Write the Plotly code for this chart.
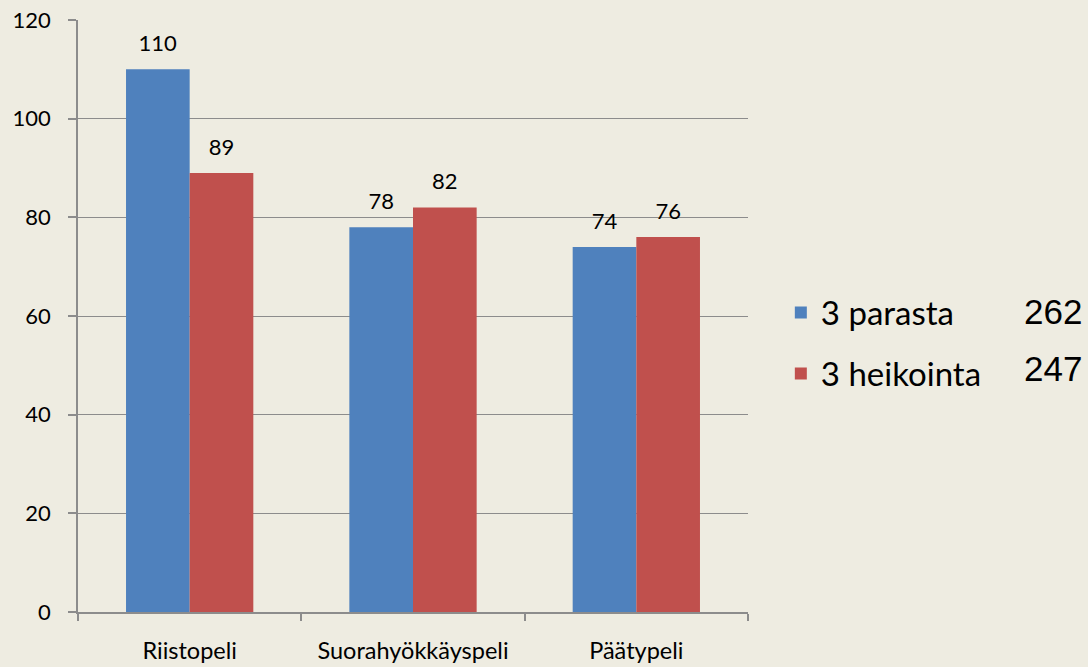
import plotly.graph_objects as go

categories = ["Riistopeli", "Suorahyökkäyspeli", "Päätypeli"]
series_names = ["3 parasta", "3 heikointa"]
parasta = [110, 78, 74]
heikointa = [89, 82, 76]
totals = ["262", "247"]
y_ticks = [0, 20, 40, 60, 80, 100, 120]

BG = "#EEECE1"
BLUE = "#4F81BD"
RED = "#C0504D"
GRID = "#8C8C8C"
FONT = "Lato, Open Sans, sans-serif"

fig = go.Figure()
for name, vals, col in [(series_names[0], parasta, BLUE), (series_names[1], heikointa, RED)]:
    fig.add_trace(go.Bar(
        x=categories, y=vals, name=name, marker=dict(color=col, line=dict(width=0)),
        text=vals, texttemplate="<span style='font-size:22px'>%{y}</span><br> ",
        textposition="outside", textfont=dict(size=10, color="black", family=FONT),
        cliponaxis=False, legendgroup=name,
    ))

fig.update_layout(
    width=1088, height=667,
    paper_bgcolor=BG, plot_bgcolor=BG,
    margin=dict(l=78, r=340, t=20, b=55, autoexpand=False),
    barmode="group", bargap=0.43, bargroupgap=0,
    font=dict(family=FONT, color="black"),
    showlegend=True,
    legend=dict(x=1.049, y=0.553, xanchor="left", yanchor="top",
                font=dict(size=33, family=FONT, color="black"),
                bgcolor="rgba(0,0,0,0)", tracegroupgap=15, itemwidth=30),
    uniformtext=dict(minsize=8, mode="show"),
)
fig.update_xaxes(
    automargin=False,
    showline=True, linecolor=GRID, linewidth=1.5,
    ticks="outside", tickson="boundaries", ticklen=7, tickcolor=GRID, tickwidth=1.5,
    tickfont=dict(size=23.5, family=FONT, color="black"),
    ticklabelstandoff=17, showgrid=False,
)
fig.update_yaxes(
    automargin=False,
    range=[0, 120], tickvals=y_ticks, showline=True, linecolor=GRID, linewidth=1.5,
    ticks="outside", ticklen=8, tickcolor=GRID, tickwidth=1.5,
    showgrid=True, gridcolor=GRID, gridwidth=1, zeroline=False,
    tickfont=dict(size=22, family=FONT, color="black"), ticklabelstandoff=13,
)
for i, t in enumerate(totals):
    fig.add_annotation(text=t, xref="paper", yref="paper", x=1.455, y=[0.508, 0.412][i],
                       showarrow=False, xanchor="center", yanchor="middle",
                       font=dict(size=35, family="Liberation Sans, Arial", color="black"))

fig.write_html("out.html", config={"displayModeBar": False},
               post_script="document.body.style.margin='0';document.body.style.overflow='hidden';")
